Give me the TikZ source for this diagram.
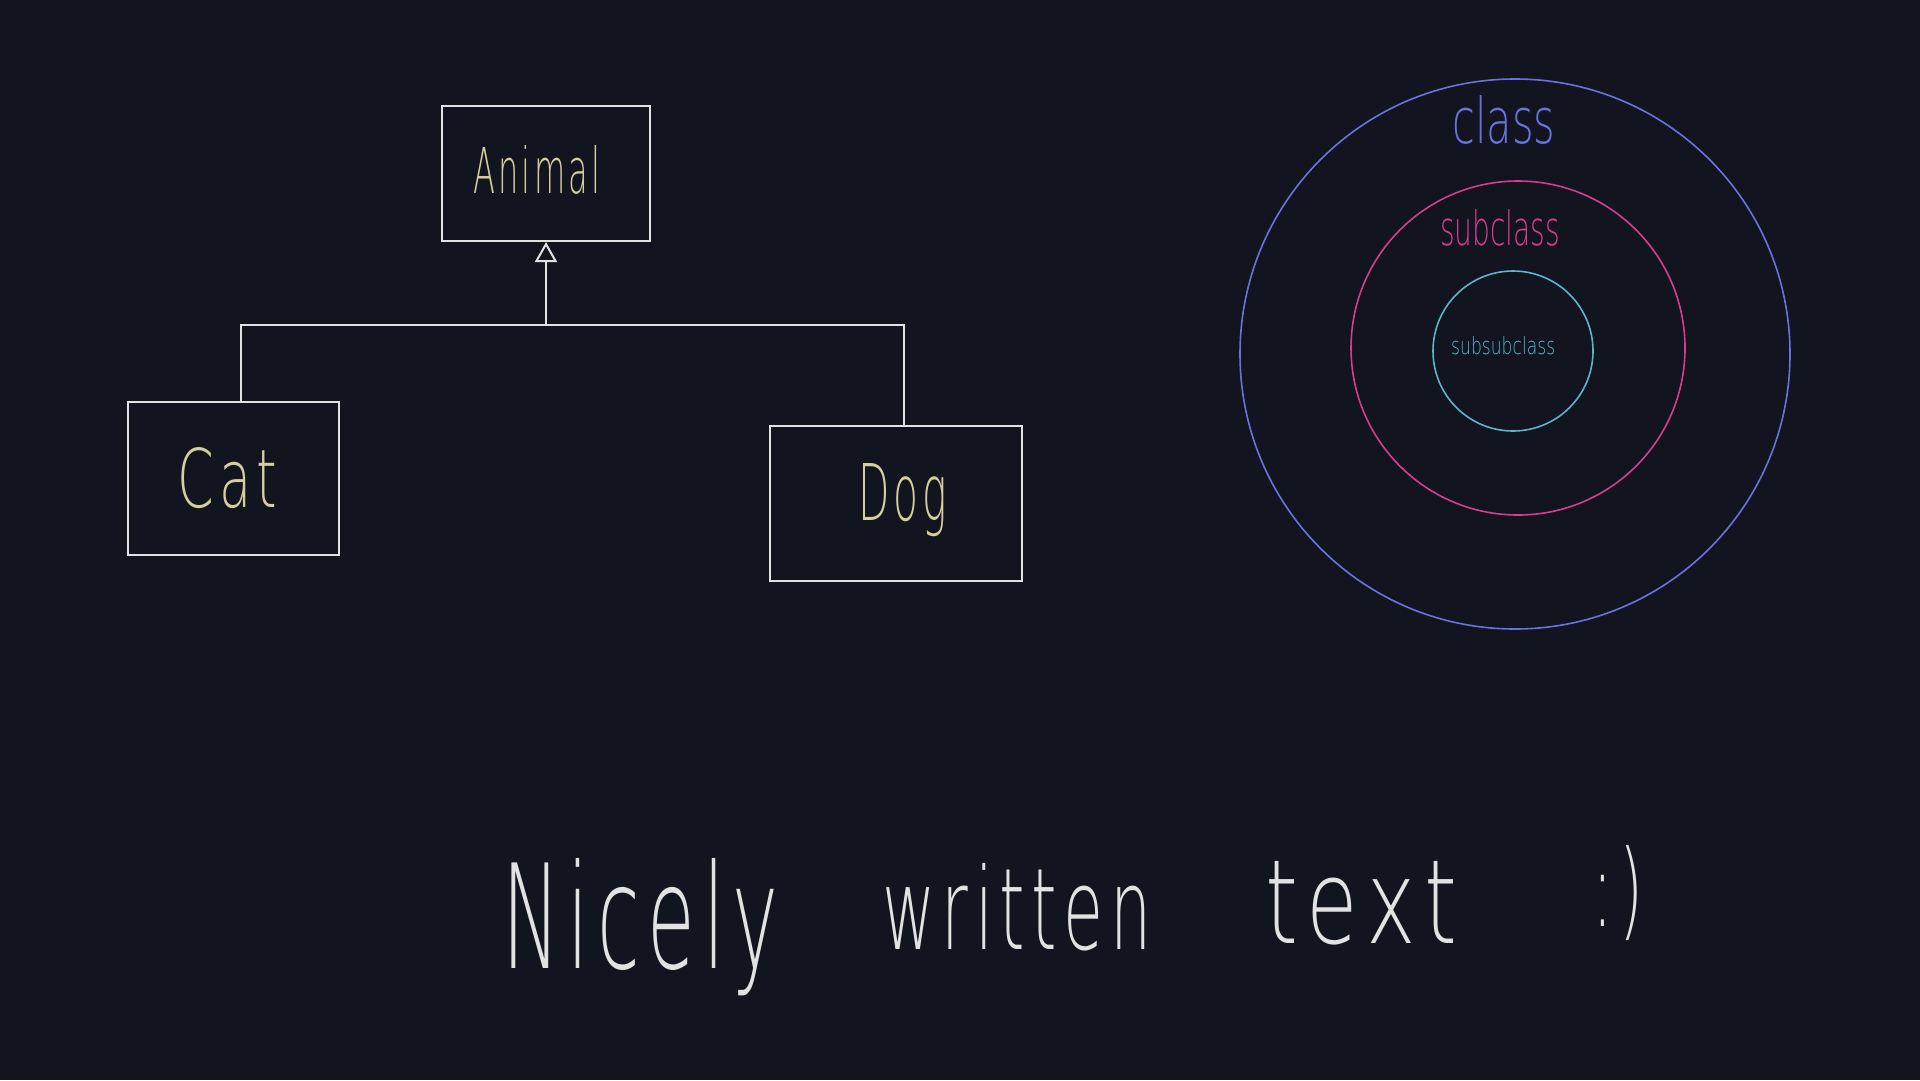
\documentclass[tikz,border=0pt]{standalone}
\usepackage{fontspec}
\newfontfamily\handfont{DejaVu Sans ExtraLight}
\usetikzlibrary{arrows.meta}
\definecolor{bg}{HTML}{12141F}
\definecolor{ink}{HTML}{E2E2E2}
\definecolor{labelc}{HTML}{D6CE9C}
\definecolor{cblue}{HTML}{6A72E0}
\definecolor{cpink}{HTML}{D63D8F}
\definecolor{ccyan}{HTML}{5BB6CB}
\newcommand\lsp{\kern0.1em}
\begin{document}
\begin{tikzpicture}[x=1pt,y=-1pt,
  boxnode/.style={draw=ink, line width=2pt, rectangle, inner sep=0pt},
  conn/.style={draw=ink, line width=2pt},
  ring/.style={draw=#1, line width=1.6pt, circle, inner sep=0pt},
  txt/.style={anchor=base west, inner sep=0pt, text=#1, font=\handfont}]
\fill[bg] (0,0) rectangle (1920,1080);
\useasboundingbox (0,0) rectangle (1920,1080);

% class boxes
\node[boxnode, minimum width=208pt, minimum height=135pt] (animal) at (546,173.5) {};
\node[boxnode, minimum width=211pt, minimum height=153pt] (cat) at (233.5,478.5) {};
\node[boxnode, minimum width=252pt, minimum height=155pt] (dog) at (896,503.5) {};

\node[txt=labelc] (animaltext) at (473,193) {\resizebox{127pt}{48pt}{A\lsp n\lsp i\lsp m\lsp a\lsp l}};
\node[txt=labelc] (cattext) at (177,507) {\resizebox{100pt}{60pt}{C\lsp a\lsp t}};
\node[txt=labelc] (dogtext) at (858,520) {\resizebox{89pt}{57pt}{D\lsp o\lsp g}};

% inheritance connectors
\coordinate (junction) at (546,325);
\draw[conn] ([xshift=7pt]cat.north) |- (junction) -| ([xshift=8pt]dog.north);
\draw[conn, -{Triangle[open, length=20pt, width=22pt, line width=2pt]}] (junction) -- (animal.south);

% nested circles
\node[ring=cblue, minimum size=550pt] (classring) at (1515,354) {};
\node[ring=cpink, minimum size=334pt] (subring) at (1518,348) {};
\node[ring=ccyan, minimum size=160pt] (subsubring) at (1513,351) {};

\node[txt=cblue] (classtext) at (1452,143) {\resizebox{103pt}{48pt}{class}};
\node[txt=cpink] (subtext) at (1440,245) {\resizebox{120pt}{36pt}{subclass}};
\node[txt=ccyan] (subsubtext) at (1451,354) {\resizebox{104pt}{18pt}{subsubclass}};

% bottom text
\node[txt=ink] (w1) at (502,968) {\resizebox{276pt}{110pt}{N\lsp i\lsp c\lsp e\lsp l\lsp y}};
\node[txt=ink] (w2) at (882,949) {\resizebox{269pt}{86pt}{w\lsp r\lsp i\lsp t\lsp t\lsp e\lsp n}};
\node[txt=ink] (w3) at (1265,943) {\resizebox{192pt}{82pt}{t\lsp e\lsp x\lsp t}};
\node[txt=ink] (w4) at (1592,926) {\resizebox{51pt}{81pt}{:\lsp)}};
\end{tikzpicture}
\end{document}
